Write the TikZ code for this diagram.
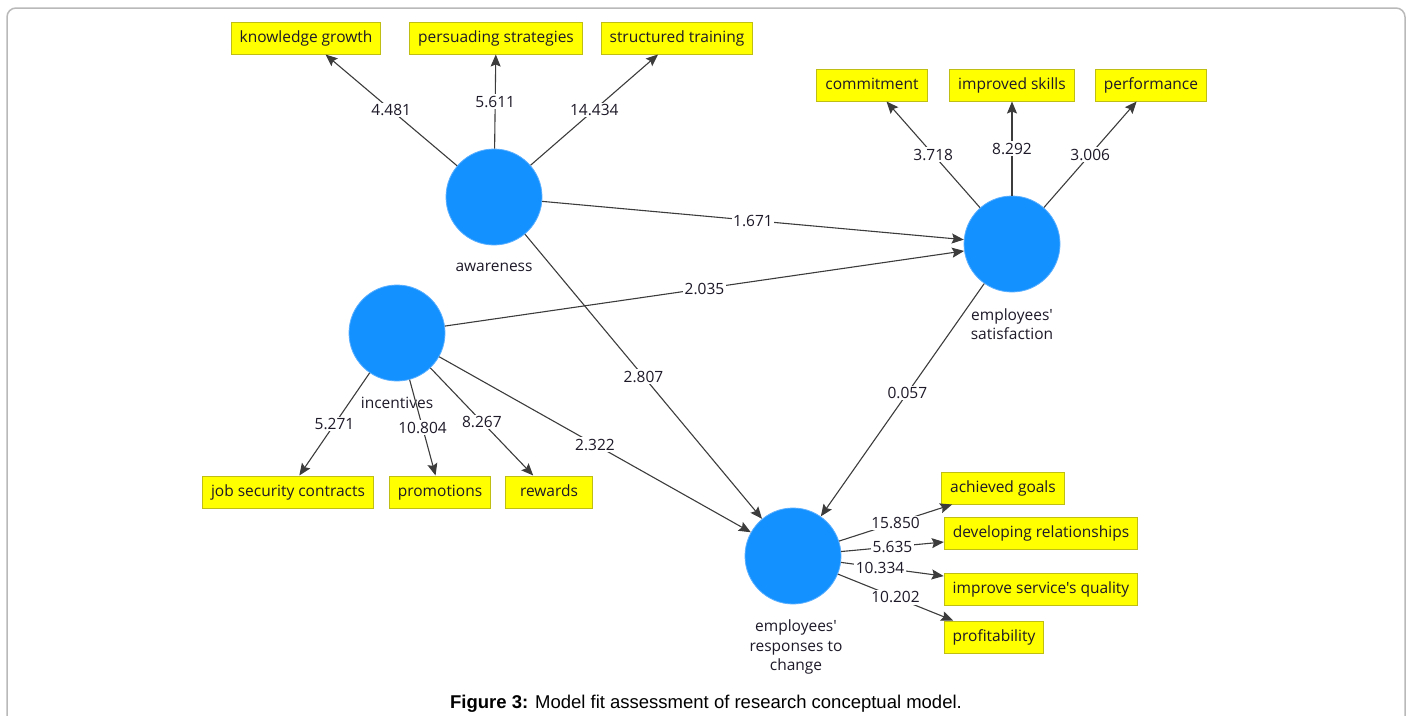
\documentclass[tikz,border=0pt]{standalone}
\usepackage{fontspec}
\setmainfont{Open Sans}[Ligatures=TeXOff]
\newfontfamily\capfont{Liberation Sans}
\usetikzlibrary{arrows.meta}
\definecolor{lvblue}{RGB}{19,145,255}
\definecolor{lvedge}{RGB}{90,175,255}
\definecolor{yborder}{RGB}{190,190,20}
\definecolor{boxfill}{RGB}{255,255,0}
\definecolor{txt}{RGB}{30,25,40}
\definecolor{lgray}{RGB}{60,60,60}
\definecolor{framec}{RGB}{185,185,185}
\tikzset{
  lv/.style={circle, fill=lvblue, draw=lvedge, line width=0.8pt, minimum size=96pt, inner sep=0pt},
  ind/.style={draw=yborder, fill=boxfill, line width=1pt, minimum height=32pt, inner xsep=8.5pt, inner ysep=0pt, text height=11.5pt, text depth=3.5pt, minimum width=87pt, text=txt},
  lvlab/.style={text=txt, align=center, inner sep=0pt},
  conn/.style={draw=lgray, line width=1.1pt, -{Stealth[length=12pt,width=10pt,inset=2pt]}},
  wlab/.style={fill=white, inner sep=1.5pt, text=txt}
}
\begin{document}
\begin{tikzpicture}[x=1pt,y=-1pt, font=\fontsize{15.5}{19.5}\selectfont]
\useasboundingbox (0,0) rectangle (1413,715);
\begin{scope}
\clip (0,0) rectangle (1413,715);
\draw[framec, line width=1.5pt, rounded corners=9pt] (7,8) rectangle (1405,760);
\end{scope}

% latent variables
\node[lv] (aw) at (494,197) {};
\node[lv] (inc) at (397,333) {};
\node[lv] (sat) at (1012,244) {};
\node[lv] (resp) at (793,556) {};

\node[lvlab] (awl) at (494,267) {awareness};
\node[lvlab] (incl) at (397,403) {incentives};
\node[lvlab] (satl) at (1012,324) {employees'\\satisfaction};
\node[lvlab] (respl) at (796,647) {employees'\\responses to\\change};

% indicators
\node[ind] (kg) at (306,38) {knowledge growth};
\node[ind] (ps) at (496,38) {persuading strategies};
\node[ind] (st) at (677,38) {structured training};
\node[ind] (com) at (872,85) {commitment};
\node[ind] (is) at (1012,85) {improved skills};
\node[ind] (perf) at (1151,85) {performance};
\node[ind] (job) at (288,492) {job security contracts};
\node[ind] (prom) at (440,492) {promotions};
\node[ind] (rew) at (549,492) {rewards};
\node[ind] (ag) at (1003,488) {achieved goals};
\node[ind] (dr) at (1041,533) {developing relationships};
\node[ind] (isq) at (1041,589) {improve service's quality};
\node[ind] (prof) at (994,637) {profitability};

% connectors
\draw[conn] (aw) -- node[wlab]{4.481} (kg);
\draw[conn] (aw) -- node[wlab]{5.611} (ps);
\draw[conn] (aw) -- node[wlab]{14.434} (st);
\draw[conn] (sat) -- node[wlab]{3.718} (com);
\draw[conn] (sat) -- node[wlab]{8.292} (is);
\draw[conn] (sat) -- node[wlab]{3.006} (perf);
\draw[conn] (aw) -- node[wlab]{1.671} (sat);
\draw[conn] (inc) -- node[wlab]{2.035} (sat);
\draw[conn] (aw) -- node[wlab]{2.807} (resp);
\draw[conn] (inc) -- node[wlab]{2.322} (resp);
\draw[conn] (sat) -- node[wlab, pos=0.47]{0.057} (resp);
\draw[conn] (inc) -- node[wlab]{5.271} (job);
\draw[conn] (inc) -- node[wlab]{10.804} (prom);
\draw[conn] (inc) -- node[wlab]{8.267} (rew);
\draw[conn] (resp) -- node[wlab]{15.850} (ag);
\draw[conn] (resp) -- node[wlab]{5.635} (dr);
\draw[conn] (resp) -- node[wlab, pos=0.38]{10.334} (isq);
\draw[conn] (resp) -- node[wlab]{10.202} (prof);

\node (cap) at (706,704) {\capfont\fontsize{18.5}{21}\selectfont\textbf{Figure 3:} Model fit assessment of research conceptual model.};
\end{tikzpicture}
\end{document}
